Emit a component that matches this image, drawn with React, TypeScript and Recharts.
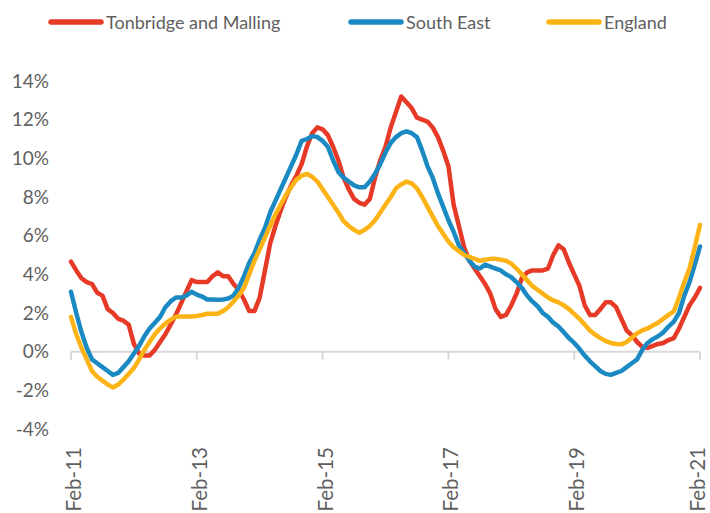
import React from "react";
import {
  LineChart,
  Line,
  XAxis,
  YAxis,
  ReferenceLine,
  Legend,
} from "recharts";

const MONTH_NAMES = ["Jan", "Feb", "Mar", "Apr", "May", "Jun", "Jul", "Aug", "Sep", "Oct", "Nov", "Dec"];

// Feb-11 .. Feb-21, monthly
const months: string[] = [];
for (let i = 0; i < 121; i++) {
  const m = (1 + i) % 12;
  const y = 11 + Math.floor((1 + i) / 12);
  months.push(`${MONTH_NAMES[m]}-${y}`);
}

const tonbridge = [
  4.66, 4.2, 3.8, 3.6, 3.5, 3.05, 2.9, 2.2, 2.0, 1.7, 1.6, 1.4, 0.4, -0.1, -0.2, -0.2, 0.1, 0.5, 0.9, 1.4,
  1.9, 2.5, 3.1, 3.7, 3.6, 3.6, 3.6, 3.9, 4.1, 3.9, 3.9, 3.5, 3.2, 2.7, 2.1, 2.1, 2.8, 4.2, 5.6, 6.5,
  7.3, 8.0, 8.6, 9.1, 9.7, 10.6, 11.3, 11.6, 11.5, 11.2, 10.6, 9.9, 9.0, 8.4, 7.9, 7.7, 7.6, 7.9, 9.0, 9.9,
  10.6, 11.6, 12.4, 13.2, 12.9, 12.6, 12.1, 12.0, 11.9, 11.6, 11.1, 10.4, 9.6, 7.6, 6.5, 5.4, 4.7, 4.3, 3.9, 3.5,
  3.0, 2.2, 1.8, 1.9, 2.4, 3.0, 3.8, 4.1, 4.2, 4.2, 4.2, 4.3, 5.0, 5.5, 5.3, 4.6, 4.0, 3.4, 2.4, 1.9,
  1.9, 2.2, 2.55, 2.55, 2.3, 1.7, 1.1, 0.85, 0.5, 0.25, 0.2, 0.3, 0.4, 0.45, 0.6, 0.7, 1.2, 1.8, 2.4, 2.8,
  3.3,
];

const southEast = [
  3.1, 2.0, 1.0, 0.2, -0.4, -0.6, -0.8, -1.0, -1.2, -1.1, -0.8, -0.5, -0.1, 0.3, 0.8, 1.2, 1.5, 1.8, 2.3, 2.6,
  2.8, 2.8, 2.9, 3.1, 2.95, 2.85, 2.7, 2.7, 2.69, 2.7, 2.75, 2.9, 3.3, 3.9, 4.6, 5.1, 5.8, 6.4, 7.2, 7.8,
  8.4, 9.0, 9.6, 10.2, 10.9, 11.0, 11.15, 11.1, 10.9, 10.6, 9.9, 9.3, 9.0, 8.8, 8.6, 8.5, 8.5, 8.8, 9.2, 9.7,
  10.3, 10.8, 11.1, 11.3, 11.4, 11.3, 11.1, 10.4, 9.6, 9.0, 8.2, 7.5, 6.8, 6.2, 5.5, 5.1, 4.7, 4.4, 4.3, 4.5,
  4.4, 4.3, 4.2, 4.0, 3.85, 3.6, 3.3, 2.9, 2.6, 2.35, 2.0, 1.8, 1.5, 1.3, 1.0, 0.7, 0.45, 0.15, -0.2, -0.5,
  -0.75, -1.0, -1.15, -1.2, -1.1, -1.0, -0.8, -0.6, -0.4, 0.1, 0.45, 0.65, 0.8, 1.0, 1.3, 1.55, 2.0, 2.9, 3.6, 4.5,
  5.44,
];

const england = [
  1.8, 0.9, 0.2, -0.4, -1.0, -1.3, -1.5, -1.7, -1.85, -1.7, -1.45, -1.15, -0.85, -0.4, 0.1, 0.5, 0.9, 1.2, 1.45, 1.65,
  1.8, 1.82, 1.82, 1.82, 1.85, 1.9, 1.96, 1.96, 1.96, 2.1, 2.3, 2.6, 2.9, 3.3, 4.0, 4.7, 5.3, 5.9, 6.5, 7.1,
  7.6, 8.1, 8.5, 8.9, 9.1, 9.2, 9.05, 8.8, 8.4, 8.0, 7.6, 7.2, 6.75, 6.5, 6.3, 6.15, 6.3, 6.5, 6.8, 7.2,
  7.6, 8.0, 8.45, 8.65, 8.8, 8.7, 8.45, 8.0, 7.5, 7.0, 6.5, 6.1, 5.7, 5.4, 5.2, 5.0, 4.9, 4.8, 4.7, 4.75,
  4.8, 4.8, 4.75, 4.7, 4.55, 4.3, 4.0, 3.7, 3.4, 3.2, 3.0, 2.8, 2.65, 2.55, 2.4, 2.2, 1.95, 1.7, 1.4, 1.1,
  0.88, 0.7, 0.55, 0.45, 0.4, 0.38, 0.5, 0.72, 0.95, 1.1, 1.2, 1.35, 1.5, 1.7, 1.9, 2.08, 2.8, 3.6, 4.3, 5.4,
  6.56,
];

const yTicks = [-4, -2, 0, 2, 4, 6, 8, 10, 12, 14];

const SERIES = [
  { key: "tonbridge", name: "Tonbridge and Malling", color: "#E63A27", itemWidth: 300 },
  { key: "southEast", name: "South East", color: "#1B8AC3", itemWidth: 198 },
  { key: "england", name: "England", color: "#FCB316", itemWidth: 150 },
];

const W = 710;
const H = 513;
const TOP = 81;
const X_AXIS_H = 84;
const Y_MIN = -4;
const Y_MAX = 14;
const FONT = "Lato, 'Liberation Sans', sans-serif";
const TEXT = "#5F5F5F";
const AXIS = "#D9D9D9";

const data = months.map((month, i) => ({
  month,
  tonbridge: tonbridge[i],
  southEast: southEast[i],
  england: england[i],
}));

// zero line sits inside the plot, ticks hang from it
const plotH = H - TOP - X_AXIS_H;
const zeroFromBottom = (plotH * (0 - Y_MIN)) / (Y_MAX - Y_MIN);

const XTick = ({ x, y, payload }: any) => {
  const bottom = y - 8; // plot bottom edge
  const zeroY = bottom - zeroFromBottom;
  const ty = bottom + 18;
  const tx = Math.min(x + 2, W - 13); // keep last label inside the frame
  return (
    <g>
      <line x1={x} x2={x} y1={zeroY} y2={zeroY + 8} stroke={AXIS} strokeWidth={2} />
      <text
        x={tx}
        y={ty}
        transform={`rotate(-90, ${tx}, ${ty})`}
        textAnchor="end"
        dominantBaseline="central"
        fill={TEXT}
        fontSize={20.5}
        fontFamily={FONT}
      >
        {payload.value}
      </text>
    </g>
  );
};

const renderLegend = () => (
  <div
    style={{
      display: "flex",
      alignItems: "center",
      height: 30,
      paddingLeft: 46,
      fontFamily: FONT,
      fontSize: 18,
      color: TEXT,
      whiteSpace: "nowrap",
    }}
  >
    {SERIES.map((s) => (
      <div key={s.key} style={{ display: "flex", alignItems: "center", width: s.itemWidth }}>
        <svg width={58} height={8} style={{ marginRight: 2 }}>
          <line x1={5} x2={55} y1={4} y2={4} stroke={s.color} strokeWidth={5.5} strokeLinecap="round" />
        </svg>
        <span>{s.name}</span>
      </div>
    ))}
  </div>
);

export default function App() {
  return (
    <div style={{ position: "absolute", left: 0, top: 0, width: W, height: H, background: "#fff" }}>
      <LineChart width={W} height={H} data={data} margin={{ top: TOP, right: 10, bottom: 0, left: 0 }}>
        <XAxis
          dataKey="month"
          interval={23}
          axisLine={false}
          tickLine={false}
          height={X_AXIS_H}
          tick={<XTick />}
        />
        <YAxis
          domain={[Y_MIN, Y_MAX]}
          ticks={yTicks}
          width={71}
          axisLine={false}
          tickLine={false}
          tickMargin={16}
          tickFormatter={(v: number) => `${v}%`}
          tick={{ fill: TEXT, fontSize: 19, fontFamily: FONT }}
        />
        <ReferenceLine y={0} stroke={AXIS} strokeWidth={2} />
        {SERIES.map((s) => (
          <Line
            key={s.key}
            type="linear"
            dataKey={s.key}
            name={s.name}
            stroke={s.color}
            strokeWidth={4.5}
            strokeLinejoin="round"
            strokeLinecap="round"
            dot={false}
            activeDot={false}
            isAnimationActive={false}
          />
        ))}
        <Legend
          layout="horizontal"
          verticalAlign="middle"
          align="center"
          content={renderLegend}
          wrapperStyle={{ position: "absolute", top: 7, left: 0, width: W }}
        />
      </LineChart>
    </div>
  );
}
